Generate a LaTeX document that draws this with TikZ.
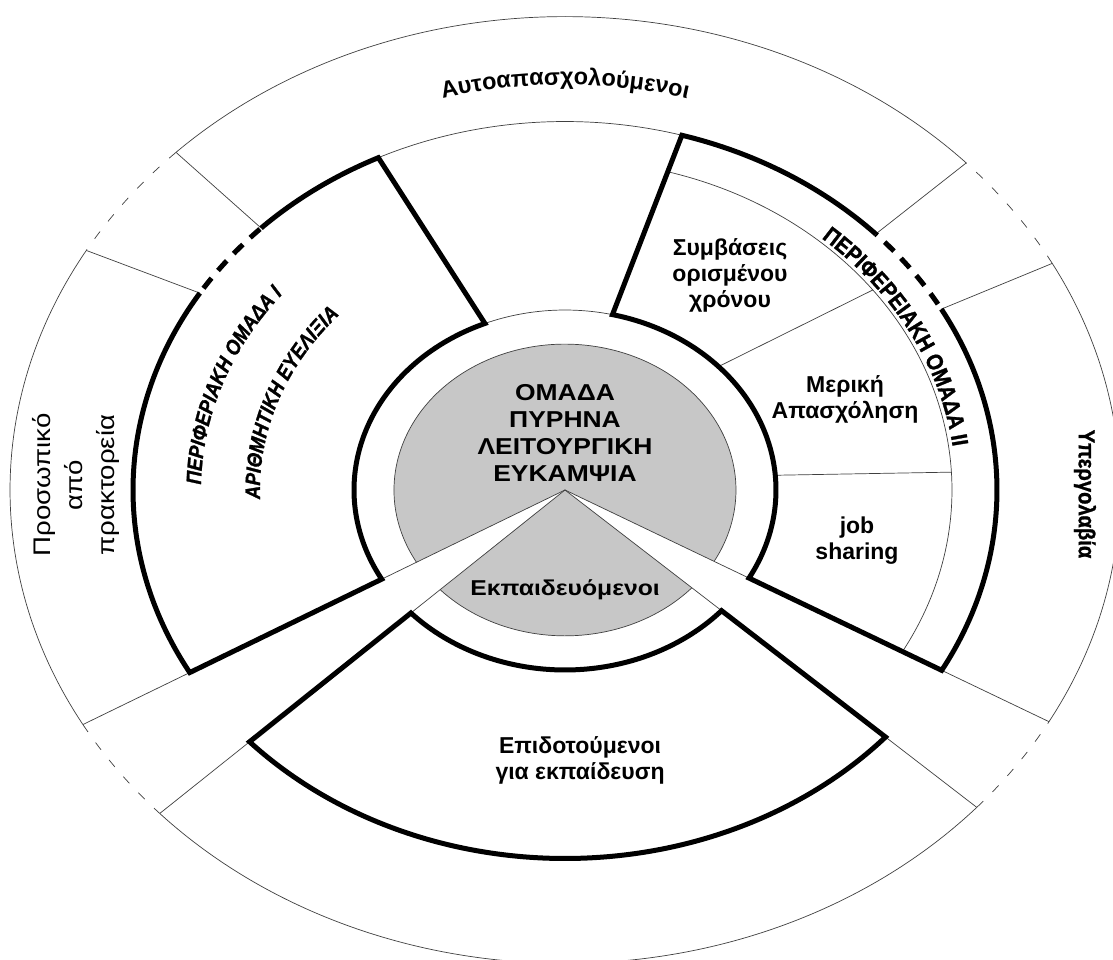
\documentclass[tikz,border=0pt]{standalone}
\usepackage{fontspec}
\setmainfont{Liberation Sans}
\newfontfamily\widesans[FakeStretch=1.15]{Liberation Sans}
\newfontfamily\narrowheavy[FakeStretch=0.88, FakeBold=1.2, UprightFont={* Bold}, ItalicFont={* Bold Italic}]{Liberation Sans}
\usetikzlibrary{decorations.text}
\newcommand\corefont{\widesans\bfseries\fontsize{23}{27}\selectfont}
\newcommand\sectorfont{\bfseries\fontsize{23}{26}\selectfont}
\newcommand\agencyfont{\widesans\fontsize{24}{32}\selectfont}
\newcommand\toptextfont{\bfseries\fontsize{23.5}{23.5}\selectfont}
\newcommand\groupfont{\narrowheavy\itshape\fontsize{21}{21}\selectfont}
\newcommand\grouptwofont{\narrowheavy\fontsize{23}{23}\selectfont}
\tikzset{
  thinline/.style={line width=0.7pt, draw=black!75},
  thindash/.style={thinline, dash pattern=on 9pt off 13pt},
  heavyline/.style={line width=5pt, draw=black, line join=miter},
  heavydash/.style={heavyline, dash pattern=on 13pt off 10pt, dash phase=17pt},
  corefill/.style={fill=black!22},
  sectorlabel/.style={align=center, inner sep=0pt},
}
\begin{document}
\begin{tikzpicture}[x=1pt, y=0.853pt]
	\def\rcore{171}
	\def\rin{211}
	\def\rmid{387}
	\def\rout{432}
	\def\rrim{555}
	\path[use as bounding box, fill=white] (-565pt,-470pt) rectangle (548pt,490pt);
	% core and trainees
	\fill[corefill] (0,0) -- (209.7:\rcore) arc[start angle=209.7, end angle=-29.3, radius=\rcore] -- cycle;
	\fill[corefill] (0,0) -- (223.1:\rcore) arc[start angle=223.1, end angle=317.9, radius=\rcore] -- cycle;
	\draw[thinline] (209.7:\rcore) arc[start angle=209.7, end angle=-29.3, radius=\rcore];
	\draw[thinline] (223.1:\rcore) arc[start angle=223.1, end angle=317.9, radius=\rcore];
	\foreach \a in {209.7, 223.1, 317.9, 330.7}
		\draw[thinline] (0,0) -- (\a:\rin) (\a:\rout) -- (\a:\rrim);
	% thin rings
	\draw[thinline] (77:\rin) arc[start angle=77, end angle=112.3, radius=\rin];
	\draw[thinline] (74.3:\rout) arc[start angle=74.3, end angle=115.6, radius=\rout];
	\draw[thinline] (74.85:\rmid) arc[start angle=74.85, end angle=-29.3, radius=\rmid];
	\draw[thinline] (43.3:\rin) -- (37.3:\rmid) (4.7:\rin) -- (3.1:\rmid);
	% outer rim
	\draw[thinline] (43.7:\rrim) arc[start angle=43.7, end angle=134.5, radius=\rrim];
	\draw[thinline] (149.6:\rrim) arc[start angle=149.6, end angle=209.7, radius=\rrim];
	\draw[thinline] (223.1:\rrim) arc[start angle=223.1, end angle=317.9, radius=\rrim];
	\draw[thinline] (330.7:\rrim) arc[start angle=330.7, end angle=388.6, radius=\rrim];
	\draw[thindash] (134.5:\rrim) arc[start angle=134.5, end angle=149.6, radius=\rrim];
	\draw[thindash] (209.7:\rrim) arc[start angle=209.7, end angle=223.1, radius=\rrim];
	\draw[thindash] (317.9:\rrim) arc[start angle=317.9, end angle=330.7, radius=\rrim];
	\draw[thindash] (28.6:\rrim) arc[start angle=28.6, end angle=43.7, radius=\rrim];
	\draw[thinline] (134.7:\rout) -- (134.5:\rrim) (147.7:\rout) -- (149.6:\rrim)
		(29.4:\rout) -- (28.6:\rrim) (44:\rout) -- (43.7:\rrim);
	% peripheral group I
	\draw[heavyline] (134.7:\rout) arc[start angle=134.7, end angle=115.6, radius=\rout] -- (112.3:\rin)
		arc[start angle=112.3, end angle=209.7, radius=\rin] -- (209.7:\rout)
		arc[start angle=209.7, end angle=147.7, radius=\rout];
	\draw[heavydash] (147.7:\rout) arc[start angle=147.7, end angle=134.7, radius=\rout];
	% peripheral group II
	\draw[heavyline] (44:\rout) arc[start angle=44, end angle=74.3, radius=\rout] -- (77:\rin)
		arc[start angle=77, end angle=-29.3, radius=\rin] -- (-29.3:\rout)
		arc[start angle=-29.3, end angle=29.4, radius=\rout];
	\draw[heavydash] (29.4:\rout) arc[start angle=29.4, end angle=44, radius=\rout];
	% subsidised trainees
	\draw[heavyline] (223.1:\rin) arc[start angle=223.1, end angle=317.9, radius=\rin] -- (317.9:\rout)
		arc[start angle=317.9, end angle=223.1, radius=\rout] -- cycle;
	% texts along the rings
	\path[decorate, decoration={text along path, text align=center, text={|\toptextfont|Αυτοαπασχολούμενοι}}]
		(135:475) arc[start angle=135, end angle=45, radius=475];
	\path[decorate, decoration={text along path, text align=left, text={|\groupfont|ΠΕΡΙΦΕΡΙΑΚΗ ΟΜΑΔΑ Ι}}]
		(179:364) arc[start angle=179, end angle=120, radius=364];
	\path[decorate, decoration={text along path, text align=left, text={|\groupfont|ΑΡΙΘΜΗΤΙΚΗ ΕΥΕΛΙΞΙΑ}}]
		(182:305) arc[start angle=182, end angle=120, radius=305];
	\path[decorate, decoration={text along path, text align=left, text={|\grouptwofont|ΠΕΡΙΦΕΡΕΙΑΚΗ ΟΜΑΔΑ ΙΙ}}]
		(49:391) arc[start angle=49, end angle=-10, radius=391];
	% sector texts
	\node[sectorlabel, font=\corefont] (core) at (0pt,57.5pt) {ΟΜΑΔΑ\\ΠΥΡΗΝΑ\\ΛΕΙΤΟΥΡΓΙΚΗ\\ΕΥΚΑΜΨΙΑ};
	\node[sectorlabel, font=\widesans\bfseries\fontsize{21.5}{26}\selectfont] (trainees) at (0pt,-100pt) {Εκπαιδευόμενοι};
	\node[sectorlabel, font=\sectorfont] (fixedterm) at (165pt,215pt) {Συμβάσεις\\ορισμένου\\χρόνου};
	\node[sectorlabel, font=\sectorfont] (parttime) at (280pt,91pt) {Μερική\\Απασχόληση};
	\node[sectorlabel, font=\sectorfont] (jobshare) at (292pt,-51pt) {job\\sharing};
	\node[sectorlabel, font=\sectorfont] (subsidised) at (15pt,-270pt) {Επιδοτούμενοι\\για εκπαίδευση};
	\node[sectorlabel, font=\agencyfont, rotate=90] (agency) at (-489pt,5pt) {Προσωπικό\\από\\πρακτορεία};
	\node[sectorlabel, font=\narrowheavy\fontsize{23}{26}\selectfont, rotate=-90] (subcontract) at (520pt,-4pt) {Υπεργολαβία};
\end{tikzpicture}
\end{document}
